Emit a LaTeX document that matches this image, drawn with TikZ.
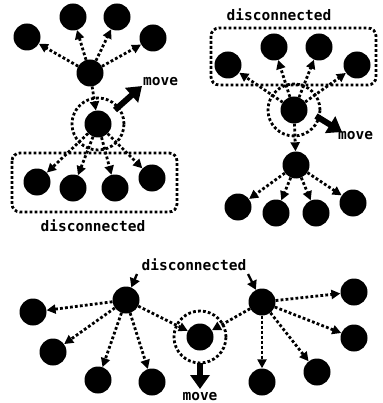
\documentclass[tikz,border=0pt]{standalone}
\usepackage{fontspec}
\setmonofont{DejaVu Sans Mono}
\usetikzlibrary{arrows.meta}
\begin{document}
\begin{tikzpicture}[x=1pt,y=-1pt,
  nd/.style={circle,fill=black,minimum size=27pt,inner sep=0pt},
  dotline/.style={line width=2.8pt,dash pattern=on 2.8pt off 2.2pt},
  dl/.style={dotline,-{Triangle[length=9pt,width=9pt]}},
  ring/.style={circle,draw,dotline,minimum size=52pt,inner sep=0pt},
  dbox/.style={draw,dotline,rounded corners=8pt},
  mv/.style={line width=6pt,-{Triangle[length=14pt,width=19pt]}},
  sa/.style={line width=2.4pt,-{Triangle[length=9pt,width=10pt]}},
  lbl/.style={font=\ttfamily\bfseries\fontsize{14.5}{16}\selectfont,inner sep=0pt}
]
\useasboundingbox (0,0) rectangle (382,403);

% ---------- top-left panel ----------
\draw[dbox] (12,153) rectangle (177,212);
\node[ring] (Mring) at (98,124) {};
\node[nd] (A1) at (27,37) {};
\node[nd] (A2) at (73,17) {};
\node[nd] (A3) at (117,17) {};
\node[nd] (A4) at (153,38) {};
\node[nd] (P) at (90,73) {};
\node[nd] (M) at (98,124) {};
\node[nd] (B1) at (37,182) {};
\node[nd] (B2) at (73,188) {};
\node[nd] (B3) at (115,188) {};
\node[nd] (B4) at (152,178) {};
\draw[dl] (P) -- (A1);
\draw[dl] (P) -- (A2);
\draw[dl] (P) -- (A3);
\draw[dl] (P) -- (A4);
\draw[dl] (P) -- (M);
\draw[dl] (M) -- (B1);
\draw[dl] (M) -- (B2);
\draw[dl] (M) -- (B3);
\draw[dl] (M) -- (B4);
\coordinate (mvAs) at (115,110);
\coordinate (mvAe) at (142,86);
\draw[mv] (mvAs) -- (mvAe);
\node[lbl,anchor=west] (moveA) at (143,82) {move};
\node[lbl] (discA) at (93,226) {disconnected};

% ---------- top-right panel ----------
\node[lbl] (discB) at (279,15) {disconnected};
\draw[dbox] (211,28) rectangle (376,85);
\node[ring] (Qring) at (294,110) {};
\node[nd] (C1) at (228,65) {};
\node[nd] (C2) at (274,47) {};
\node[nd] (C3) at (319,47) {};
\node[nd] (C4) at (357,65) {};
\node[nd] (Q) at (294,110) {};
\node[nd] (R0) at (296,165) {};
\node[nd] (D1) at (238,207) {};
\node[nd] (D2) at (276,213) {};
\node[nd] (D3) at (316,213) {};
\node[nd] (D4) at (353,203) {};
\draw[dl] (Q) -- (C1);
\draw[dl] (Q) -- (C2);
\draw[dl] (Q) -- (C3);
\draw[dl] (Q) -- (C4);
\draw[dl] (Q) -- (R0);
\draw[dl] (R0) -- (D1);
\draw[dl] (R0) -- (D2);
\draw[dl] (R0) -- (D3);
\draw[dl] (R0) -- (D4);
\coordinate (mvBs) at (316,116);
\coordinate (mvBe) at (342,132);
\draw[mv] (mvBs) -- (mvBe);
\node[lbl,anchor=west] (moveB) at (338,136) {move};

% ---------- bottom panel ----------
\node[lbl] (discC) at (194,265) {disconnected};
\node[ring] (Nring) at (200,337) {};
\node[nd] (L) at (126,300) {};
\node[nd] (R) at (262,302) {};
\node[nd] (N) at (200,337) {};
\node[nd] (E1) at (33,312) {};
\node[nd] (E2) at (53,352) {};
\node[nd] (E3) at (98,380) {};
\node[nd] (E4) at (152,382) {};
\node[nd] (F1) at (354,292) {};
\node[nd] (F2) at (354,338) {};
\node[nd] (F3) at (317,372) {};
\node[nd] (F4) at (262,382) {};
\draw[dl] (L) -- (E1);
\draw[dl] (L) -- (E2);
\draw[dl] (L) -- (E3);
\draw[dl] (L) -- (E4);
\draw[dl] (L) -- (N);
\draw[dl] (R) -- (F1);
\draw[dl] (R) -- (F2);
\draw[dl] (R) -- (F3);
\draw[dl] (R) -- (F4);
\draw[dl] (R) -- (N);
\coordinate (dsL) at (137,274);
\coordinate (dsR) at (248,274);
\draw[sa] (dsL) -- (L);
\draw[sa] (dsR) -- (R);
\coordinate (mvCs) at (200,363);
\coordinate (mvCe) at (200,389);
\draw[mv] (mvCs) -- (mvCe);
\node[lbl] (moveC) at (200,397) {move};
\end{tikzpicture}
\end{document}
